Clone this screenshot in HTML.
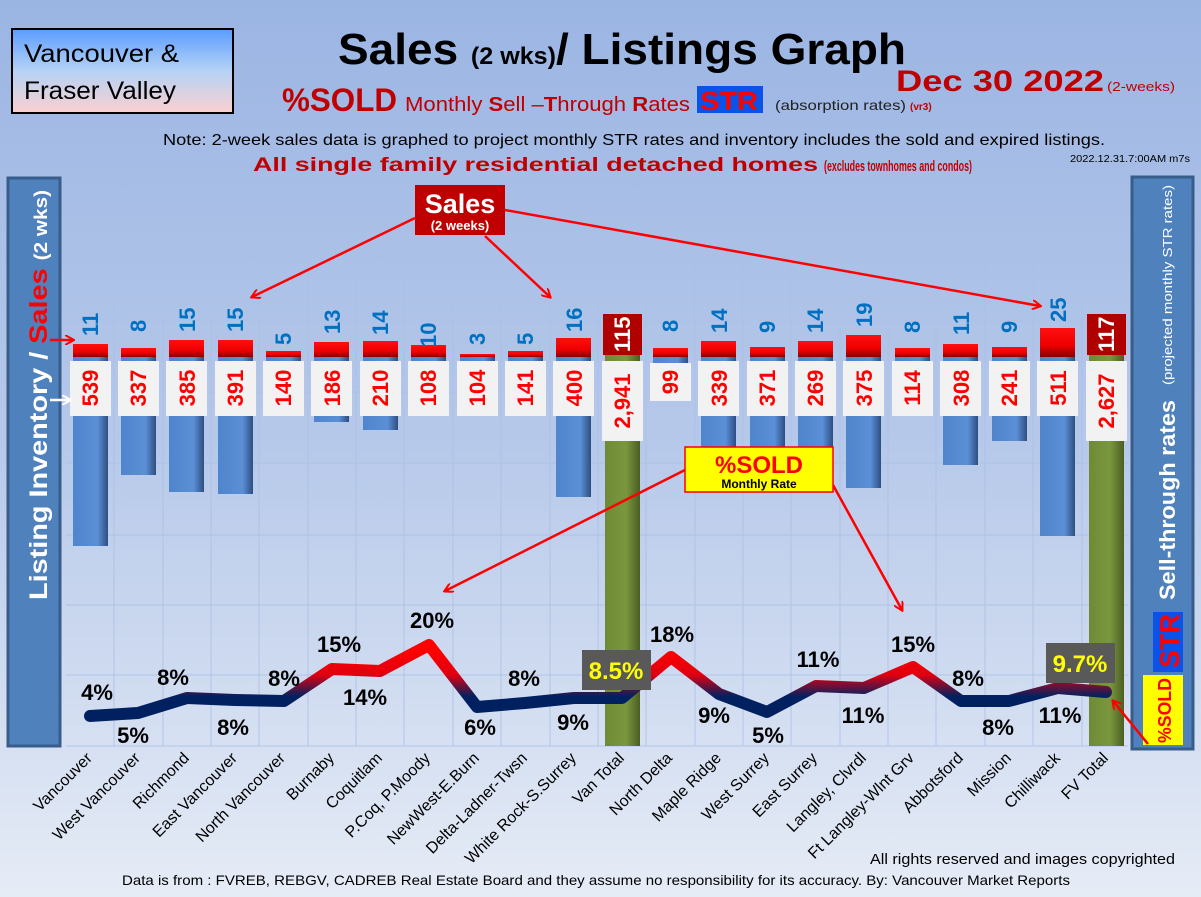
<!DOCTYPE html>
<html><head><meta charset="utf-8"><style>
html,body{margin:0;padding:0;width:1201px;height:897px;overflow:hidden}
svg{display:block;font-family:"Liberation Sans",sans-serif}
.bl{font:bold 22px "Liberation Sans",sans-serif;fill:#0070c0}
.rd{font:bold 22px "Liberation Sans",sans-serif;fill:#ff0000}
.pc{font:bold 22px "Liberation Sans",sans-serif;fill:#000}
.cat{font:16px "Liberation Sans",sans-serif;fill:#000}
</style></head><body>
<svg width="1201" height="897" viewBox="0 0 1201 897" xmlns="http://www.w3.org/2000/svg">
<defs>
<linearGradient id="bg" x1="0" y1="0" x2="0" y2="1"><stop offset="0" stop-color="#9bb5e3"/><stop offset="0.5" stop-color="#b7c9ea"/><stop offset="1" stop-color="#e6ecf6"/></linearGradient>
<linearGradient id="vb" x1="0" y1="0" x2="0" y2="1"><stop offset="0" stop-color="#5b9cff"/><stop offset="0.5" stop-color="#b5d3f5"/><stop offset="1" stop-color="#fbd0d0"/></linearGradient>
<linearGradient id="bb" x1="0" y1="0" x2="1" y2="0"><stop offset="0" stop-color="#4f85cc"/><stop offset="0.7" stop-color="#5b8fd6"/><stop offset="1" stop-color="#2d4f80"/></linearGradient>
<linearGradient id="rb" x1="0" y1="0" x2="0" y2="1"><stop offset="0" stop-color="#ff1010"/><stop offset="0.6" stop-color="#ee0000"/><stop offset="1" stop-color="#8a0000"/></linearGradient>
<linearGradient id="gb" x1="0" y1="0" x2="1" y2="0"><stop offset="0" stop-color="#6f8a36"/><stop offset="0.6" stop-color="#7a973e"/><stop offset="1" stop-color="#4b5e22"/></linearGradient>
<linearGradient id="ln" gradientUnits="userSpaceOnUse" x1="0" y1="650" x2="0" y2="705"><stop offset="0" stop-color="#ff0000"/><stop offset="0.45" stop-color="#e00010"/><stop offset="0.85" stop-color="#002060"/><stop offset="1" stop-color="#002060"/></linearGradient>
<marker id="ar" markerWidth="10" markerHeight="10" refX="8" refY="5" orient="auto" markerUnits="userSpaceOnUse"><path d="M0,0 L9,5 L0,10" fill="none" stroke="#ff0000" stroke-width="2"/></marker>
<marker id="aw" markerWidth="10" markerHeight="10" refX="8" refY="5" orient="auto" markerUnits="userSpaceOnUse"><path d="M0,0 L9,5 L0,10" fill="none" stroke="#fff" stroke-width="2"/></marker>
</defs>
<rect width="1201" height="897" fill="url(#bg)"/>
<g stroke="#aac0e6" stroke-width="1" opacity="0.8">
<line x1="66" y1="250" x2="1128" y2="250"/><line x1="66" y1="320" x2="1128" y2="320"/><line x1="66" y1="392" x2="1128" y2="392"/><line x1="66" y1="463" x2="1128" y2="463"/><line x1="66" y1="535" x2="1128" y2="535"/><line x1="66" y1="605" x2="1128" y2="605"/><line x1="66" y1="675" x2="1128" y2="675"/><line x1="66" y1="746" x2="1128" y2="746"/>
<line x1="114" y1="200" x2="114" y2="746"/><line x1="163" y1="200" x2="163" y2="746"/><line x1="211" y1="200" x2="211" y2="746"/><line x1="259" y1="200" x2="259" y2="746"/><line x1="308" y1="200" x2="308" y2="746"/><line x1="356" y1="200" x2="356" y2="746"/><line x1="404" y1="200" x2="404" y2="746"/><line x1="453" y1="200" x2="453" y2="746"/><line x1="501" y1="200" x2="501" y2="746"/><line x1="550" y1="200" x2="550" y2="746"/><line x1="598" y1="200" x2="598" y2="746"/><line x1="646" y1="200" x2="646" y2="746"/><line x1="695" y1="200" x2="695" y2="746"/><line x1="743" y1="200" x2="743" y2="746"/><line x1="791" y1="200" x2="791" y2="746"/><line x1="840" y1="200" x2="840" y2="746"/><line x1="888" y1="200" x2="888" y2="746"/><line x1="936" y1="200" x2="936" y2="746"/><line x1="985" y1="200" x2="985" y2="746"/><line x1="1033" y1="200" x2="1033" y2="746"/><line x1="1082" y1="200" x2="1082" y2="746"/>
</g>
<rect x="12" y="29" width="221" height="84" fill="url(#vb)" stroke="#000" stroke-width="2"/>
<text x="24" y="62" font-size="25" fill="#000" textLength="155" lengthAdjust="spacingAndGlyphs">Vancouver &amp;</text>
<text x="24" y="99" font-size="25" fill="#000" textLength="152" lengthAdjust="spacingAndGlyphs">Fraser Valley</text>
<text x="338" y="64" font-weight="bold" font-size="44" fill="#000" textLength="568" lengthAdjust="spacingAndGlyphs">Sales <tspan font-size="24">(2 wks)</tspan>/ Listings Graph</text>
<text x="896" y="91" font-weight="bold" font-size="30" fill="#c00000" textLength="208" lengthAdjust="spacingAndGlyphs">Dec 30  2022</text>
<text x="1107" y="91" font-size="13" fill="#c00000" textLength="68" lengthAdjust="spacingAndGlyphs">(2-weeks)</text>
<text x="282" y="111" font-weight="bold" font-size="32" fill="#c00000" textLength="115" lengthAdjust="spacingAndGlyphs">%SOLD</text>
<text x="405" y="111" font-size="20" fill="#c00000" textLength="285" lengthAdjust="spacingAndGlyphs">Monthly <tspan font-weight="bold">S</tspan>ell –<tspan font-weight="bold">T</tspan>hrough <tspan font-weight="bold">R</tspan>ates</text>
<rect x="697" y="86" width="66" height="27" fill="#0a52e8"/>
<text x="700" y="110" font-weight="bold" font-size="26" fill="#ff0000" textLength="58" lengthAdjust="spacingAndGlyphs">STR</text>
<text x="775" y="110" font-size="14" fill="#222" textLength="131" lengthAdjust="spacingAndGlyphs">(absorption rates)</text>
<text x="910" y="110" font-size="10" fill="#c00000" font-weight="bold">(vr3)</text>
<text x="163" y="145" font-size="16" fill="#000" textLength="942" lengthAdjust="spacingAndGlyphs">Note: 2-week sales data is graphed to project monthly STR rates and inventory includes the sold and expired listings.</text>
<text x="253" y="171" font-size="19" font-weight="bold" fill="#c00000" textLength="565" lengthAdjust="spacingAndGlyphs">All single family residential detached homes</text>
<text x="824" y="171" font-size="15" font-weight="bold" fill="#c00000" textLength="148" lengthAdjust="spacingAndGlyphs">(excludes townhomes and condos)</text>
<text x="1070" y="162" font-size="10" fill="#000" textLength="120" lengthAdjust="spacingAndGlyphs">2022.12.31.7:00AM m7s</text>
<rect x="8" y="178" width="52" height="568" fill="#4f81bd" stroke="#385d8a" stroke-width="3"/>
<text transform="translate(47,600) rotate(-90)" font-size="25" font-weight="bold" fill="#fff" textLength="410" lengthAdjust="spacingAndGlyphs">Listing Inventory / <tspan fill="#ff0000">Sales</tspan> <tspan font-size="18">(2 wks)</tspan></text>
<rect x="1132" y="177" width="61" height="572" fill="#4f81bd" stroke="#385d8a" stroke-width="3"/>
<rect x="1143" y="675" width="40" height="70" fill="#ffff00"/>
<text transform="translate(1171,743) rotate(-90)" font-size="18" font-weight="bold" fill="#ff0000" textLength="65" lengthAdjust="spacingAndGlyphs">%SOLD</text>
<rect x="1153" y="612" width="30" height="60" fill="#0a52e8"/>
<text transform="translate(1179,668) rotate(-90)" font-size="28" font-weight="bold" fill="#ff0000" textLength="54" lengthAdjust="spacingAndGlyphs">STR</text>
<text transform="translate(1175,600) rotate(-90)" font-size="22" font-weight="bold" fill="#fff" textLength="200" lengthAdjust="spacingAndGlyphs">Sell-through rates</text>
<text transform="translate(1172,385) rotate(-90)" font-size="13" fill="#fff" textLength="200" lengthAdjust="spacingAndGlyphs">(projected monthly STR rates)</text>
<rect x="605" y="314" width="35" height="432" fill="url(#gb)"/>
<rect x="1089" y="314" width="35" height="432" fill="url(#gb)"/>
<rect x="603" y="314" width="39" height="41" fill="#b00000"/>
<rect x="1087" y="314" width="39" height="41" fill="#b00000"/>
<text transform="translate(630,352) rotate(-90)" class="rd" style="fill:#fff">115</text>
<text transform="translate(1114,352) rotate(-90)" class="rd" style="fill:#fff">117</text>
<g fill="url(#bb)">
<rect x="73" y="357" width="35" height="189"/><rect x="121" y="357" width="35" height="118"/><rect x="169" y="357" width="35" height="135"/><rect x="218" y="357" width="35" height="137"/><rect x="266" y="357" width="35" height="49"/><rect x="314" y="357" width="35" height="65"/><rect x="363" y="357" width="35" height="73"/><rect x="411" y="357" width="35" height="38"/><rect x="460" y="357" width="35" height="36"/><rect x="508" y="357" width="35" height="49"/><rect x="556" y="357" width="35" height="140"/><rect x="653" y="357" width="35" height="35"/><rect x="701" y="357" width="35" height="119"/><rect x="750" y="357" width="35" height="130"/><rect x="798" y="357" width="35" height="94"/><rect x="846" y="357" width="35" height="131"/><rect x="895" y="357" width="35" height="40"/><rect x="943" y="357" width="35" height="108"/><rect x="992" y="357" width="35" height="84"/><rect x="1040" y="357" width="35" height="179"/>
</g>
<g fill="url(#rb)">
<rect x="73" y="344" width="35" height="13"/><rect x="121" y="348" width="35" height="9"/><rect x="169" y="340" width="35" height="17"/><rect x="218" y="340" width="35" height="17"/><rect x="266" y="351" width="35" height="6"/><rect x="314" y="342" width="35" height="15"/><rect x="363" y="341" width="35" height="16"/><rect x="411" y="345" width="35" height="12"/><rect x="460" y="354" width="35" height="3"/><rect x="508" y="351" width="35" height="6"/><rect x="556" y="338" width="35" height="19"/><rect x="653" y="348" width="35" height="9"/><rect x="701" y="341" width="35" height="16"/><rect x="750" y="347" width="35" height="10"/><rect x="798" y="341" width="35" height="16"/><rect x="846" y="335" width="35" height="22"/><rect x="895" y="348" width="35" height="9"/><rect x="943" y="344" width="35" height="13"/><rect x="992" y="347" width="35" height="10"/><rect x="1040" y="328" width="35" height="29"/>
</g>
<g>
<text transform="translate(98,336) rotate(-90)" class="bl">11</text>
<text transform="translate(146,332) rotate(-90)" class="bl">8</text>
<text transform="translate(195,332) rotate(-90)" class="bl">15</text>
<text transform="translate(243,332) rotate(-90)" class="bl">15</text>
<text transform="translate(291,345) rotate(-90)" class="bl">5</text>
<text transform="translate(340,334) rotate(-90)" class="bl">13</text>
<text transform="translate(388,335) rotate(-90)" class="bl">14</text>
<text transform="translate(436,347) rotate(-90)" class="bl">10</text>
<text transform="translate(485,345) rotate(-90)" class="bl">3</text>
<text transform="translate(533,345) rotate(-90)" class="bl">5</text>
<text transform="translate(582,332) rotate(-90)" class="bl">16</text>
<text transform="translate(678,332) rotate(-90)" class="bl">8</text>
<text transform="translate(727,333) rotate(-90)" class="bl">14</text>
<text transform="translate(775,333) rotate(-90)" class="bl">9</text>
<text transform="translate(823,333) rotate(-90)" class="bl">14</text>
<text transform="translate(872,327) rotate(-90)" class="bl">19</text>
<text transform="translate(920,333) rotate(-90)" class="bl">8</text>
<text transform="translate(969,335) rotate(-90)" class="bl">11</text>
<text transform="translate(1017,333) rotate(-90)" class="bl">9</text>
<text transform="translate(1066,322) rotate(-90)" class="bl">25</text>
</g>
<g fill="#f2f2f2">
<rect x="70" y="361" width="41" height="55"/><rect x="118" y="361" width="41" height="55"/><rect x="166" y="361" width="41" height="55"/><rect x="215" y="361" width="41" height="55"/><rect x="263" y="361" width="41" height="55"/><rect x="311" y="361" width="41" height="55"/><rect x="360" y="361" width="41" height="55"/><rect x="408" y="361" width="41" height="55"/><rect x="457" y="361" width="41" height="55"/><rect x="505" y="361" width="41" height="55"/><rect x="553" y="361" width="41" height="55"/><rect x="602" y="361" width="41" height="80"/><rect x="650" y="363" width="41" height="38"/><rect x="698" y="361" width="41" height="55"/><rect x="747" y="361" width="41" height="55"/><rect x="795" y="361" width="41" height="55"/><rect x="843" y="361" width="41" height="55"/><rect x="892" y="361" width="41" height="55"/><rect x="940" y="361" width="41" height="55"/><rect x="989" y="361" width="41" height="55"/><rect x="1037" y="361" width="41" height="55"/><rect x="1086" y="361" width="41" height="80"/>
</g>
<g text-anchor="middle">
<text transform="translate(98,388) rotate(-90)" class="rd">539</text>
<text transform="translate(146,388) rotate(-90)" class="rd">337</text>
<text transform="translate(195,388) rotate(-90)" class="rd">385</text>
<text transform="translate(243,388) rotate(-90)" class="rd">391</text>
<text transform="translate(291,388) rotate(-90)" class="rd">140</text>
<text transform="translate(340,388) rotate(-90)" class="rd">186</text>
<text transform="translate(388,388) rotate(-90)" class="rd">210</text>
<text transform="translate(436,388) rotate(-90)" class="rd">108</text>
<text transform="translate(485,388) rotate(-90)" class="rd">104</text>
<text transform="translate(533,388) rotate(-90)" class="rd">141</text>
<text transform="translate(582,388) rotate(-90)" class="rd">400</text>
<text transform="translate(630,401) rotate(-90)" class="rd">2,941</text>
<text transform="translate(678,382) rotate(-90)" class="rd">99</text>
<text transform="translate(727,388) rotate(-90)" class="rd">339</text>
<text transform="translate(775,388) rotate(-90)" class="rd">371</text>
<text transform="translate(823,388) rotate(-90)" class="rd">269</text>
<text transform="translate(872,388) rotate(-90)" class="rd">375</text>
<text transform="translate(920,388) rotate(-90)" class="rd">114</text>
<text transform="translate(969,388) rotate(-90)" class="rd">308</text>
<text transform="translate(1017,388) rotate(-90)" class="rd">241</text>
<text transform="translate(1066,388) rotate(-90)" class="rd">511</text>
<text transform="translate(1114,401) rotate(-90)" class="rd">2,627</text>
</g>
<polyline points="90,716 138,713 187,698 235,700 284,701 332,669 380,671 429,645 477,707 525,703 574,698 622,698 671,657 719,694 767,712 816,686 864,688 913,667 961,701 1009,701 1058,688 1106,692" fill="none" stroke="url(#ln)" stroke-width="12" stroke-linejoin="round" stroke-linecap="round"/>
<g text-anchor="middle">
<text x="97" y="700" class="pc">4%</text><text x="133" y="743" class="pc">5%</text><text x="173" y="685" class="pc">8%</text><text x="233" y="735" class="pc">8%</text><text x="284" y="686" class="pc">8%</text><text x="339" y="652" class="pc">15%</text><text x="365" y="705" class="pc">14%</text><text x="432" y="628" class="pc">20%</text><text x="480" y="735" class="pc">6%</text><text x="524" y="686" class="pc">8%</text><text x="573" y="730" class="pc">9%</text><text x="672" y="642" class="pc">18%</text><text x="714" y="723" class="pc">9%</text><text x="768" y="743" class="pc">5%</text><text x="818" y="667" class="pc">11%</text><text x="863" y="723" class="pc">11%</text><text x="913" y="652" class="pc">15%</text><text x="968" y="686" class="pc">8%</text><text x="998" y="735" class="pc">8%</text><text x="1060" y="723" class="pc">11%</text>
</g>
<rect x="582" y="650" width="69" height="40" fill="#595959"/>
<text x="616" y="679" text-anchor="middle" font-size="24" font-weight="bold" fill="#ffff00">8.5%</text>
<rect x="1046" y="643" width="69" height="40" fill="#595959"/>
<text x="1080" y="672" text-anchor="middle" font-size="24" font-weight="bold" fill="#ffff00">9.7%</text>
<g stroke="#ff0000" stroke-width="2.5" fill="none" marker-end="url(#ar)">
<line x1="415" y1="218" x2="252" y2="297"/><line x1="485" y1="236" x2="550" y2="297"/><line x1="505" y1="210" x2="1040" y2="306"/>
<line x1="685" y1="470" x2="445" y2="591"/><line x1="833" y1="485" x2="902" y2="610"/>
<line x1="1148" y1="744" x2="1113" y2="701"/><line x1="50" y1="340" x2="73" y2="340"/>
</g>
<line x1="50" y1="400" x2="70" y2="400" stroke="#fff" stroke-width="2.5" marker-end="url(#aw)"/>
<rect x="415" y="185" width="90" height="50" fill="#c00000"/>
<text x="460" y="213" text-anchor="middle" font-size="27" font-weight="bold" fill="#fff">Sales</text>
<text x="460" y="230" text-anchor="middle" font-size="13" font-weight="bold" fill="#fff">(2 weeks)</text>
<rect x="685" y="447" width="148" height="45" fill="#ffff00" stroke="#ff0000" stroke-width="1.5"/>
<text x="759" y="473" text-anchor="middle" font-size="24" font-weight="bold" fill="#ff0000">%SOLD</text>
<text x="759" y="488" text-anchor="middle" font-size="12" font-weight="bold" fill="#000">Monthly Rate</text>
<g text-anchor="end">
<text transform="translate(93,759) rotate(-45)" class="cat">Vancouver</text>
<text transform="translate(141,759) rotate(-45)" class="cat">West Vancouver</text>
<text transform="translate(190,759) rotate(-45)" class="cat">Richmond</text>
<text transform="translate(238,759) rotate(-45)" class="cat">East Vancouver</text>
<text transform="translate(286,759) rotate(-45)" class="cat">North Vancouver</text>
<text transform="translate(335,759) rotate(-45)" class="cat">Burnaby</text>
<text transform="translate(383,759) rotate(-45)" class="cat">Coquitlam</text>
<text transform="translate(431,759) rotate(-45)" class="cat">P.Coq, P.Moody</text>
<text transform="translate(480,759) rotate(-45)" class="cat">NewWest-E.Burn</text>
<text transform="translate(528,759) rotate(-45)" class="cat">Delta-Ladner-Twsn</text>
<text transform="translate(577,759) rotate(-45)" class="cat">White Rock-S.Surrey</text>
<text transform="translate(625,759) rotate(-45)" class="cat">Van Total</text>
<text transform="translate(673,759) rotate(-45)" class="cat">North Delta</text>
<text transform="translate(722,759) rotate(-45)" class="cat">Maple Ridge</text>
<text transform="translate(770,759) rotate(-45)" class="cat">West Surrey</text>
<text transform="translate(818,759) rotate(-45)" class="cat">East Surrey</text>
<text transform="translate(867,759) rotate(-45)" class="cat">Langley, Clvrdl</text>
<text transform="translate(915,759) rotate(-45)" class="cat">Ft Langley-Wlnt Grv</text>
<text transform="translate(964,759) rotate(-45)" class="cat">Abbotsford</text>
<text transform="translate(1012,759) rotate(-45)" class="cat">Mission</text>
<text transform="translate(1061,759) rotate(-45)" class="cat">Chilliwack</text>
<text transform="translate(1109,759) rotate(-45)" class="cat">FV Total</text>
</g>
<text x="870" y="864" font-size="15" fill="#000" textLength="305" lengthAdjust="spacingAndGlyphs">All rights reserved and  images copyrighted</text>
<text x="122" y="885" font-size="14" fill="#000" textLength="948" lengthAdjust="spacingAndGlyphs">Data is from : FVREB, REBGV, CADREB Real Estate Board and they assume no responsibility for its accuracy. By: Vancouver Market Reports</text>
</svg>
</body></html>
